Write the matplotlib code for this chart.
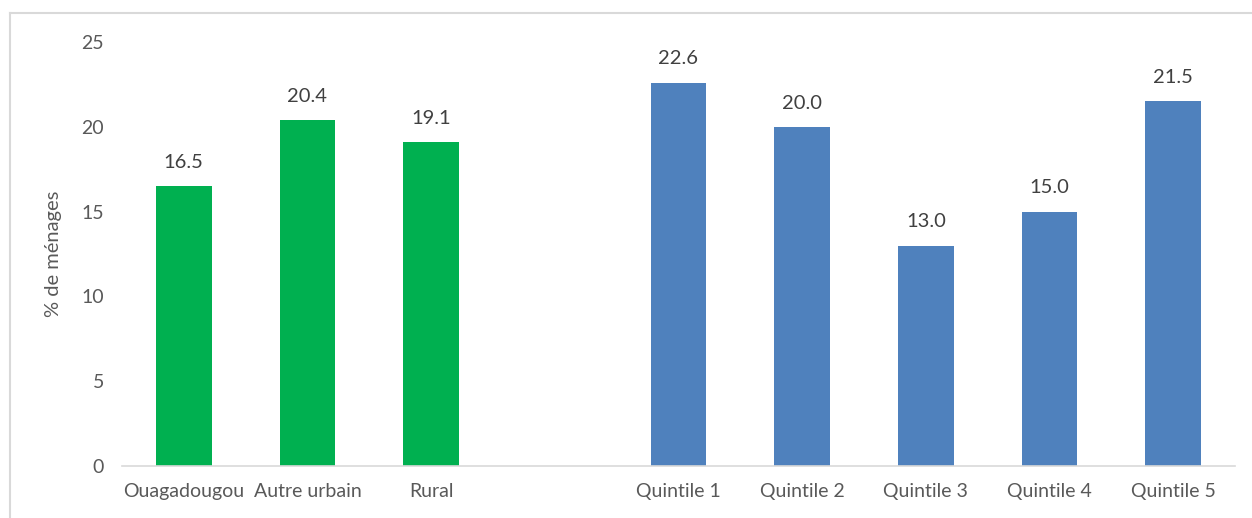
import matplotlib.pyplot as plt
from matplotlib.lines import Line2D

plt.rcParams['font.family'] = ['Lato', 'DejaVu Sans']

milieux = ["Ouagadougou", "Autre urbain", "Rural"]
milieu_vals = [16.5, 20.4, 19.1]
quintiles = ["Quintile 1", "Quintile 2", "Quintile 3", "Quintile 4", "Quintile 5"]
quintile_vals = [22.6, 20.0, 13.0, 15.0, 21.5]

green = "#00B050"
blue = "#4F81BD"
txt = "#595959"

fig = plt.figure(figsize=(12.52, 5.18), dpi=100)
ax = fig.add_axes([0.0974, 0.1004, 0.8890, 0.8185])

# one empty slot between the two groups
labels = milieux + [""] + quintiles
x_m = list(range(len(milieux)))
x_q = [len(milieux) + 1 + i for i in range(len(quintiles))]

bars_m = ax.bar(x_m, milieu_vals, width=0.45, color=green)
bars_q = ax.bar(x_q, quintile_vals, width=0.45, color=blue)

for bars, vals in ((bars_m, milieu_vals), (bars_q, quintile_vals)):
    for b, v in zip(bars, vals):
        ax.annotate(f"{v:.1f}", (b.get_x() + b.get_width() / 2, v),
                    xytext=(0, 11), textcoords="offset points",
                    ha="center", va="bottom", fontsize=14.5, color="#404040")

ax.set_xlim(-0.5, len(labels) - 0.5)
ax.set_ylim(0, 25)
ax.set_yticks(range(0, 26, 5))
ax.set_xticks(range(len(labels)))
ax.set_xticklabels(labels)
ax.tick_params(axis="both", length=0, colors=txt, labelsize=14)
ax.tick_params(axis="y", pad=13)
ax.tick_params(axis="x", pad=12)
for s in ("top", "right", "left"):
    ax.spines[s].set_visible(False)
ax.spines["bottom"].set_color("#D9D9D9")
ax.spines["bottom"].set_linewidth(1.2)
ax.set_ylabel("% de ménages", fontsize=14.5, color=txt, labelpad=14)

# chart area frame (top and left edges)
fig.add_artist(Line2D([0.008, 1.0], [0.975, 0.975], color="#D9D9D9", lw=1.5))
fig.add_artist(Line2D([0.008, 0.008], [0.0, 0.975], color="#D9D9D9", lw=1.5))

fig.savefig("out.png", dpi=100, facecolor="white")
